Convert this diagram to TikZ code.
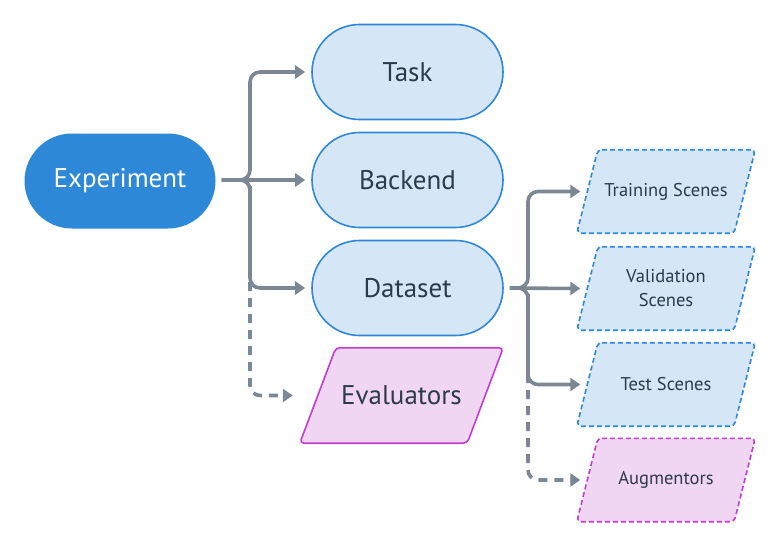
\documentclass[tikz,border=0pt]{standalone}
\usepackage{fontspec}
\setmainfont{PT Sans}
\usetikzlibrary{arrows.meta,backgrounds}

\definecolor{expblue}{HTML}{2E88D8}
\definecolor{boxfill}{HTML}{D5E6F6}
\definecolor{pinkfill}{HTML}{F1D6F4}
\definecolor{pinkline}{HTML}{C13CD0}
\definecolor{linkgray}{HTML}{7B8794}
\definecolor{txtdark}{HTML}{2D3A4A}

\tikzset{
  pill/.style={rectangle, rounded corners=47.5pt, minimum width=191pt, minimum height=95pt,
    inner sep=0pt, font=\fontsize{27}{32}\selectfont},
  subpill/.style={pill, draw=expblue, fill=boxfill, line width=1.6pt, text=txtdark},
  bigslab/.style={rectangle, minimum width=203pt, minimum height=95pt, inner sep=0pt,
    text=txtdark, font=\fontsize{27}{32}\selectfont},
  sceneslab/.style={rectangle, minimum width=178pt, minimum height=83pt, inner sep=0pt,
    text=txtdark, font=\fontsize{18.5}{24}\selectfont, align=center},
  slabline/.style={line width=1.6pt, rounded corners=4pt},
  blueslab/.style={slabline, draw=expblue, fill=boxfill, dash pattern=on 5pt off 3pt},
  pinkslab/.style={slabline, draw=pinkline, fill=pinkfill},
  pinkdashslab/.style={pinkslab, dash pattern=on 5pt off 3pt},
  link/.style={draw=linkgray, line width=3.6pt, rounded corners=10pt,
    -{Triangle[length=10pt,width=13pt]}, shorten <=6pt, shorten >=6pt},
  optlink/.style={link, dash pattern=on 9pt off 7pt}
}

\begin{document}
\begin{tikzpicture}[x=1pt,y=-1pt]
\useasboundingbox (0,0) rectangle (780,546);

% ---------- Root and its parts ----------
\node[pill, fill=expblue, text=white] (exp) at (120,181) {Experiment};
\node[subpill] (task) at (407.5,72) {Task};
\node[subpill] (backend) at (407.5,180) {Backend};
\node[subpill] (dataset) at (407.5,288) {Dataset};
\node[bigslab] (eval) at (401.5,395.5) {Evaluators};

% ---------- Dataset parts ----------
\node[sceneslab] (train) at (666,191.5) {Training Scenes};
\node[sceneslab] (valid) at (666,288.5) {Validation\\Scenes};
\node[sceneslab] (test) at (666,384.5) {Test Scenes};
\node[sceneslab] (augment) at (666,480) {Augmentors};

% ---------- Slanted outlines behind the texts ----------
\begin{scope}[on background layer]
  \foreach \n/\off/\sty in {eval/36pt/pinkslab, train/21pt/blueslab, valid/21pt/blueslab,
      test/21pt/blueslab, augment/21pt/pinkdashslab}
    \draw[\sty] ([xshift=\off]\n.north west) -- (\n.north east)
      -- ([xshift=-\off]\n.south east) -- (\n.south west) -- cycle;
\end{scope}

% ---------- Forks ----------
\coordinate (fork) at (250,180);
\coordinate (dfork) at (528,288);

% optional links first, solid ones on top
\draw[optlink, shorten >=7pt] (fork) |- (eval.west);
\draw[optlink, shorten >=-3.5pt] (dfork) |- (augment.west);

\draw[link] (exp.east |- fork) -- (fork) |- (task.west);
\draw[link] (exp.east |- fork) -- (backend.west);
\draw[link] (exp.east |- fork) -- (fork) |- (dataset.west);

\draw[link, shorten >=-3.5pt] (dataset.east) -- (dfork) |- (train.west);
\draw[link, shorten >=-3.5pt] (dataset.east) -- (valid.west);
\draw[link, shorten >=-3.5pt] (dataset.east) -- (dfork) |- (test.west);

\end{tikzpicture}
\end{document}
